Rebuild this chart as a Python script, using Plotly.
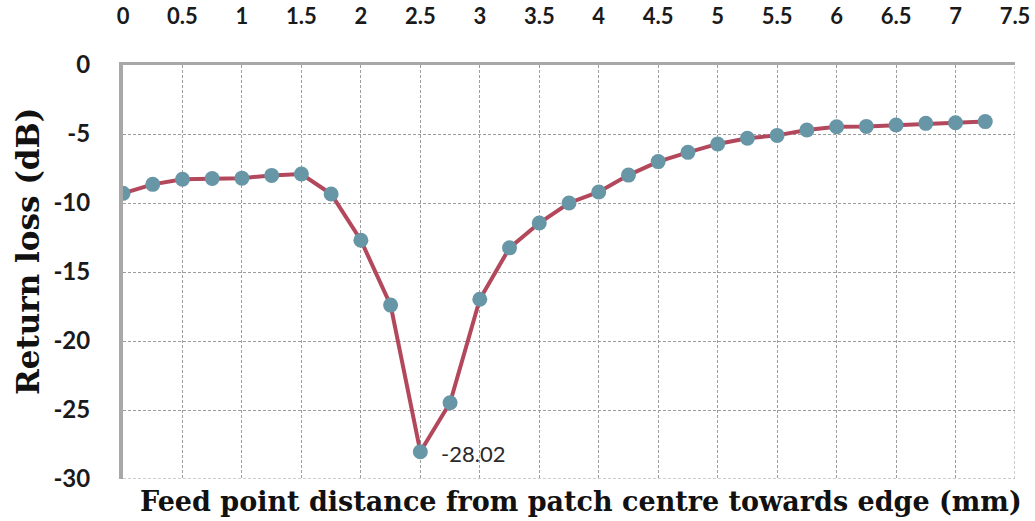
import plotly.graph_objects as go

# Feed point offset from the patch centre (mm) and measured return loss (dB)
feed_distance_mm = [0, 0.25, 0.5, 0.75, 1.0, 1.25, 1.5, 1.75, 2.0, 2.25,
                    2.5, 2.75, 3.0, 3.25, 3.5, 3.75, 4.0, 4.25, 4.5, 4.75,
                    5.0, 5.25, 5.5, 5.75, 6.0, 6.25, 6.5, 6.75, 7.0, 7.25]
return_loss_db = [-9.3, -8.65, -8.28, -8.22, -8.2, -8.0, -7.9, -9.35, -12.7, -17.4,
                  -28.02, -24.47, -16.98, -13.25, -11.45, -10.0, -9.2, -7.98, -7.0, -6.33,
                  -5.72, -5.31, -5.1, -4.71, -4.47, -4.45, -4.35, -4.23, -4.18, -4.1]

x_ticks = [0, 0.5, 1, 1.5, 2, 2.5, 3, 3.5, 4, 4.5, 5, 5.5, 6, 6.5, 7, 7.5]
y_ticks = [0, -5, -10, -15, -20, -25, -30]

# Minimum of the curve gets a value label
min_idx = return_loss_db.index(min(return_loss_db))

grid_col = "#9c9c9c"
grid_dash = "3px,2px"
x_tick_font = dict(family="Lato", size=22, color="#1a1a1a", weight="bold")
y_tick_font = dict(family="Lato", size=24, color="#1a1a1a", weight="bold")
title_family = "DejaVu Serif"

fig = go.Figure()
fig.add_trace(go.Scatter(
    x=feed_distance_mm,
    y=return_loss_db,
    mode="lines+markers",
    line=dict(color="#b3475c", width=4),
    marker=dict(color="#6796a6", size=15, line=dict(width=0)),
    showlegend=False,
))

fig.add_annotation(
    x=feed_distance_mm[min_idx], y=return_loss_db[min_idx],
    text=f"{return_loss_db[min_idx]:.2f}",
    showarrow=False, xanchor="left", yanchor="middle", xshift=19, yshift=-2,
    font=dict(family="Lato", size=22, color="#2a2a2a"),
)

# x-axis title sits below the plot while the tick labels run along the top
fig.add_annotation(
    xref="paper", yref="paper", x=0.5, y=0, yshift=-22, xshift=12,
    text="Feed point distance from patch centre towards edge (mm)",
    showarrow=False, xanchor="center", yanchor="middle",
    font=dict(family=title_family, size=27, color="#111111", weight="bold"),
)

# y-axis title, rotated, left of the tick labels
fig.add_annotation(
    xref="paper", yref="paper", x=0, y=0.5, xshift=-95, yshift=20,
    text="Return loss (dB)", textangle=-90,
    showarrow=False, xanchor="center", yanchor="middle",
    font=dict(family=title_family, size=31, color="#111111", weight="bold"),
)

fig.update_layout(
    width=1035, height=521,
    margin=dict(l=123, r=20, t=65, b=42),
    paper_bgcolor="white", plot_bgcolor="white",
    xaxis=dict(
        side="top", range=[0, 7.5], tickvals=x_ticks,
        ticktext=[f"{v:g}" for v in x_ticks],
        showgrid=True, gridcolor=grid_col, griddash=grid_dash, gridwidth=1,
        showline=True, linecolor="#a8a8a8", linewidth=3,
        zeroline=False, ticks="", ticklabelstandoff=29, automargin=False,
        tickfont=x_tick_font,
    ),
    yaxis=dict(
        range=[-30, 0], tickvals=y_ticks,
        ticktext=[f"{v:g}".replace("\u2212", "-") for v in y_ticks],
        showgrid=True, gridcolor=grid_col, griddash=grid_dash, gridwidth=1,
        showline=True, linecolor="#a8a8a8", linewidth=4,
        zeroline=False, ticks="", ticklabelstandoff=24, automargin=False,
        tickfont=y_tick_font,
    ),
)

# dashed frame lines on the far edges (right and bottom)
fig.add_shape(type="line", xref="x", yref="paper", x0=7.5, x1=7.5, y0=0, y1=1,
              line=dict(color=grid_col, width=1, dash=grid_dash))
fig.add_shape(type="line", xref="paper", yref="y", x0=0, x1=1, y0=-30, y1=-30,
              line=dict(color=grid_col, width=1, dash=grid_dash))

fig.write_html("out.html")
